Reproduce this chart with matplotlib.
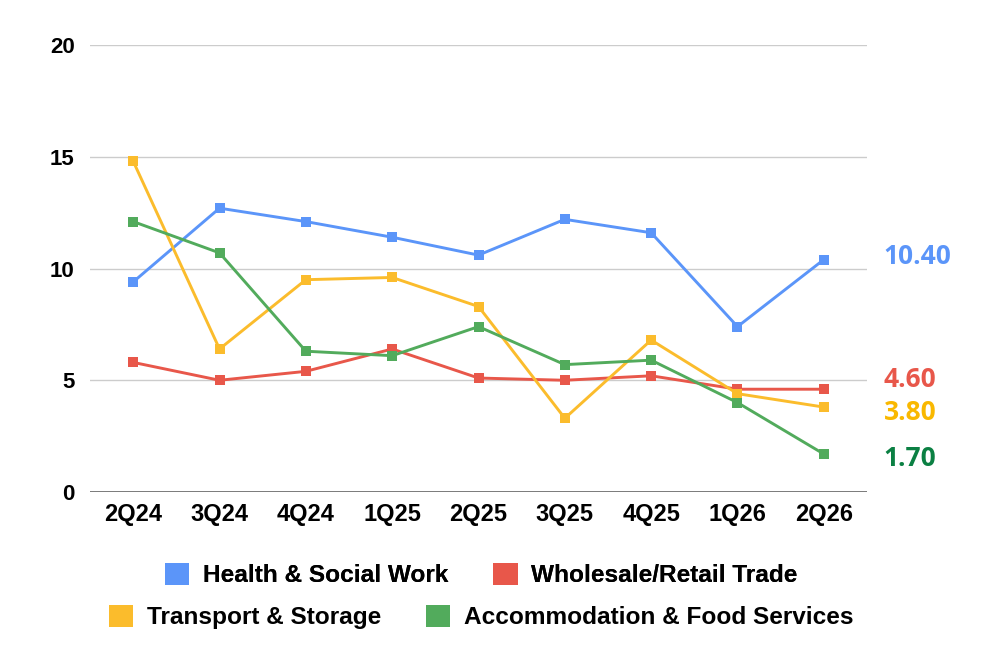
import matplotlib.pyplot as plt
from matplotlib.patches import Patch

quarters = ['2Q24', '3Q24', '4Q24', '1Q25', '2Q25', '3Q25', '4Q25', '1Q26', '2Q26']

health = [9.4, 12.7, 12.1, 11.4, 10.6, 12.2, 11.6, 7.4, 10.4]
wholesale = [5.8, 5.0, 5.4, 6.4, 5.1, 5.0, 5.2, 4.6, 4.6]
transport = [14.8, 6.4, 9.5, 9.6, 8.3, 3.3, 6.8, 4.4, 3.8]
accommodation = [12.1, 10.7, 6.3, 6.1, 7.4, 5.7, 5.9, 4.0, 1.7]

names = ['Health & Social Work', 'Wholesale/Retail Trade',
         'Transport & Storage', 'Accommodation & Food Services']
line_colors = ['#5B95F9', '#E8574A', '#FBBC2C', '#52AB5C']
label_colors = ['#5B95F9', '#E8574A', '#F9B800', '#0B8043']
label_shift = [2, 7, -4, -3]  # points, keeps end labels apart

fig = plt.figure(figsize=(9.97, 6.64), dpi=100)
ax = fig.add_axes([0.0903, 0.259, 0.7793, 0.6732])

x = list(range(len(quarters)))
series = [health, wholesale, transport, accommodation]
for vals, col, lcol, dy in zip(series, line_colors, label_colors, label_shift):
    ax.plot(x, vals, color=col, lw=2.1, marker='s', markersize=7.8,
            markeredgewidth=0, zorder=3)
    ax.annotate(f'{vals[-1]:.2f}', xy=(x[-1], vals[-1]), xytext=(43, dy),
                textcoords='offset points', ha='left', va='center',
                color=lcol, fontsize=19, fontweight='bold',
                family='Open Sans', annotation_clip=False)

ax.set_xlim(-0.5, len(quarters) - 0.5)
ax.set_ylim(0, 20)
ax.set_yticks([0, 5, 10, 15, 20])
ax.set_xticks(x)
ax.set_xticklabels(quarters)
ax.grid(axis='y', color='#cccccc', lw=1)
ax.axhline(0, color='#666666', lw=1.2, zorder=2)
ax.set_axisbelow(True)
for s in ax.spines.values():
    s.set_visible(False)
ax.tick_params(length=0, labelsize=16)
ax.tick_params(axis='x', labelsize=17, pad=8)
ax.tick_params(axis='y', pad=11)
for lab in ax.get_xticklabels() + ax.get_yticklabels():
    lab.set_family('Liberation Sans')
    lab.set_fontweight('bold')

handles = [Patch(facecolor=c, edgecolor='none') for c in line_colors]
leg_kw = dict(ncol=2, frameon=False, loc='center',
              prop={'family': 'Liberation Sans', 'weight': 'bold', 'size': 17.6},
              handlelength=1.0, handleheight=1.05, handletextpad=0.55,
              columnspacing=1.85)
leg1 = fig.legend(handles[:2], names[:2], bbox_to_anchor=(0.4825, 0.134), **leg_kw)
fig.add_artist(leg1)
fig.legend(handles[2:], names[2:], bbox_to_anchor=(0.4825, 0.071), **leg_kw)

fig.savefig('out.png', dpi=100)
